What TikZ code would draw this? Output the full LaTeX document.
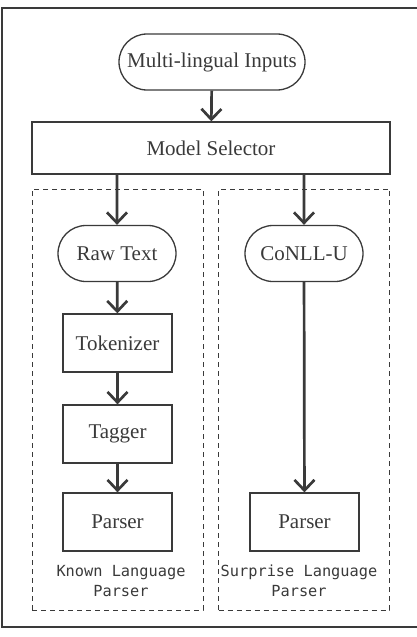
\documentclass[tikz,border=0pt]{standalone}
\usepackage{fontspec}
\setmainfont{Liberation Serif}
\setmonofont{DejaVu Sans Mono}
\usepackage{xcolor}
\usetikzlibrary{positioning,shapes.misc,arrows.meta}
\definecolor{ink}{HTML}{3A3A3A}

\begin{document}
\begin{tikzpicture}[x=1pt,y=-1pt,
    font=\fontsize{21}{24}\selectfont, text=ink,
    stadium/.style={draw=ink,line width=1.3pt,rounded rectangle,minimum height=56pt,inner sep=2pt},
    block/.style={draw=ink,line width=1.3pt,rectangle,minimum height=58pt,minimum width=109pt},
    group/.style={draw=ink,line width=1pt,dash pattern=on 5pt off 4pt,minimum width=171pt,minimum height=421pt},
    flow/.style={draw=ink,line width=2.7pt,-{Straight Barb[length=10.5pt,width=20pt,line width=2.7pt]}},
    caption/.style={font=\ttfamily\fontsize{15.3}{20}\selectfont,align=center}]
            % Frame
            \useasboundingbox (0,0) rectangle (417,637);
            \draw[ink,line width=1.3pt] (2,8) rectangle (422,627);
            % Groups
            \node[group] (known) at (117.5,399.5) {};
            \node[group] (surprise) at (304,399.5) {};
            \node[caption] (knownlbl) at (121,581) {Known Language\\Parser};
            \node[caption] (surpriselbl) at (299,581) {Surprise Language\\Parser};
            % Nodes
            \node[stadium,minimum width=190pt] (inputs) at (212,62) {Multi-lingual Inputs};
            \node[block,minimum width=358pt,minimum height=52pt] (selector) at (211,148) {Model Selector};
            \node[stadium,minimum width=122pt] (rawtext) at (117,253.5) {Raw Text};
            \node[stadium,minimum width=122pt] (conll) at (304,253.5) {CoNLL-U};
            \node[block] (tokenizer) at (117.5,343) {Tokenizer};
            \node[block] (tagger) at (117.5,434) {Tagger};
            \node[block] (parsera) at (117.5,522) {Parser};
            \node[block] (parserb) at (304.5,522) {Parser};
            % Arrows
            \draw[flow] (inputs) -- (selector);
            \draw[flow] (rawtext.north |- selector.south) -- (rawtext);
            \draw[flow] (conll.north |- selector.south) -- (conll);
            \draw[flow] (rawtext) -- (tokenizer);
            \draw[flow] (tokenizer) -- (tagger);
            \draw[flow] (tagger) -- (parsera);
            \draw[flow] (conll) -- (parserb);
\end{tikzpicture}
\end{document}
